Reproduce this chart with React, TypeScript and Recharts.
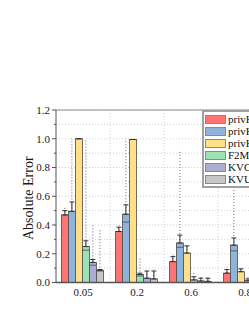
import { BarChart, Bar, XAxis, YAxis, CartesianGrid, ErrorBar, Legend, ReferenceLine, Label } from "recharts"

const categories = ["0.05", "0.2", "0.6", "0.8"]
const yTicks = [0, 0.1, 0.2, 0.3, 0.4, 0.5, 0.6, 0.7, 0.8, 0.9, 1.0, 1.1, 1.2]

// mean absolute error per category
const privKV = [0.47, 0.355, 0.145, 0.065]
const privKVM = [0.495, 0.475, 0.275, 0.26]
const privKVMPlus = [1.0, 0.995, 0.205, 0.075]
const f2m = [0.25, 0.055, 0.018, 0.012]
const kvoh = [0.14, 0.03, 0.01, 0.008]
const kvue = [0.085, 0.025, 0.008, 0.006]

// upper whisker
const privKVHigh = [0.5, 0.385, 0.18, 0.09]
const privKVMHigh = [0.56, 0.54, 0.33, 0.31]
const privKVMPlusHigh = [1.0, 0.995, 0.255, 0.095]
const f2mHigh = [0.29, 0.065, 0.04, 0.025]
const kvohHigh = [0.16, 0.08, 0.03, 0.02]
const kvueHigh = [0.09, 0.08, 0.03, 0.02]

// median line inside the box
const privKVMid = [null, null, null, null]
const privKVMMid = [null, 0.42, 0.245, 0.22]
const privKVMPlusMid = [null, null, null, null]
const f2mMid = [0.225, 0.045, null, null]
const kvohMid = [0.12, null, null, null]
const kvueMid = [0.08, null, null, null]

// largest outlier
const privKVOut = [0.53, 0.4, 0.19, 0.11]
const privKVMOut = [1.0, 1.0, 0.92, 0.99]
const privKVMPlusOut = [1.0, 0.995, 0.26, 0.1]
const f2mOut = [1.0, 0.18, 0.07, 0.04]
const kvohOut = [0.4, 0.09, 0.04, 0.03]
const kvueOut = [0.37, 0.09, 0.04, 0.03]

const series = [
  { key: "privKV", color: "#ff7373", mean: privKV, high: privKVHigh, mid: privKVMid, out: privKVOut },
  { key: "privKVM", color: "#8fb3db", mean: privKVM, high: privKVMHigh, mid: privKVMMid, out: privKVMOut },
  { key: "privKVM+", color: "#ffdf87", mean: privKVMPlus, high: privKVMPlusHigh, mid: privKVMPlusMid, out: privKVMPlusOut },
  { key: "F2M", color: "#9de2b6", mean: f2m, high: f2mHigh, mid: f2mMid, out: f2mOut },
  { key: "KVOH", color: "#adadcf", mean: kvoh, high: kvohHigh, mid: kvohMid, out: kvohOut },
  { key: "KVUE", color: "#c6c6c6", mean: kvue, high: kvueHigh, mid: kvueMid, out: kvueOut },
]

const data = categories.map((cat, i) => {
  const row: Record<string, any> = { cat }
  series.forEach((s) => {
    row[s.key] = s.mean[i]
    row[s.key + "_err"] = [0, s.high[i] - s.mean[i]]
    row[s.key + "_out"] = [0, s.out[i] - s.mean[i]]
  })
  return row
})

const FONT = "'Liberation Serif', 'Times New Roman', serif"
const AXIS = "#555"

const makeShape = (s: (typeof series)[number]) => (props: any) => {
  const { x, y, width, height, index } = props
  const v = s.mean[index]
  const m = s.mid[index]
  const my = m != null ? y + height * (1 - m / v) : null
  return (
    <g>
      <rect x={x} y={y} width={width} height={height} fill={s.color} stroke="#4a4a4a" strokeWidth={0.8} />
      {my != null && <line x1={x} x2={x + width} y1={my} y2={my} stroke="#4a4a4a" strokeWidth={0.8} />}
    </g>
  )
}

const YTick = ({ x, y, payload }: any) => {
  const major = Math.round(payload.value * 10) % 2 === 0
  return (
    <g>
      <line x1={x - (major ? 4 : 2)} x2={x} y1={y} y2={y} stroke={AXIS} />
      {major && (
        <text x={x - 6} y={y} dy="0.35em" textAnchor="end" fontSize={11} fontFamily={FONT} fill="#1a1a1a">
          {payload.value.toFixed(1)}
        </text>
      )}
    </g>
  )
}

// keep the legend in series order
const LegendBox = () => (
  <div style={{ border: "2px solid #a0a0a0", background: "#fff", padding: "1px 0 1px 1px" }}>
    {series.map((s) => (
      <div key={s.key} style={{ display: "flex", alignItems: "center", height: 12 }}>
        <span
          style={{
            width: 21,
            height: 9,
            background: s.color,
            border: "1px solid #8a8a8a",
            boxSizing: "border-box",
            marginRight: 2,
            flex: "none",
          }}
        />
        <span style={{ fontSize: 11, fontFamily: FONT, color: "#111", lineHeight: "12px", whiteSpace: "nowrap" }}>
          {s.key}
        </span>
      </div>
    ))}
  </div>
)

export default function App() {
  return (
    <div style={{ position: "absolute", left: 0, top: 0, width: 249, height: 323, overflow: "hidden", background: "#fff" }}>
      <BarChart
        width={280}
        height={323}
        data={data}
        margin={{ top: 110, right: 8, left: 0, bottom: 10.5 }}
        barCategoryGap="10%"
        barGap={0}
      >
        <CartesianGrid
          stroke="#cfcfcf"
          strokeDasharray="1 2"
          verticalCoordinatesGenerator={({ offset }: any) =>
            [1, 2, 3].map((i) => offset.left + (i * offset.width) / categories.length)
          }
        />
        <XAxis
          dataKey="cat"
          height={30}
          tickLine={false}
          tickSize={0}
          tickMargin={6}
          axisLine={{ stroke: AXIS, strokeWidth: 1.5 }}
          tick={{ fontSize: 11, fontFamily: FONT, fill: "#1a1a1a" }}
        />
        <YAxis
          width={56}
          domain={[0, 1.2]}
          ticks={yTicks}
          interval={0}
          tickLine={false}
          tickSize={0}
          tickMargin={0}
          axisLine={{ stroke: AXIS }}
          tick={<YTick />}
        >
          <Label
            content={({ viewBox }: any) => {
              const cx = viewBox.x + 28
              const cy = viewBox.y + viewBox.height / 2 + 2
              return (
                <text
                  x={cx}
                  y={cy}
                  transform={`rotate(-90 ${cx} ${cy})`}
                  textAnchor="middle"
                  dominantBaseline="central"
                  fontSize={14}
                  fontFamily={FONT}
                  fill="#1a1a1a"
                >
                  Absolute Error
                </text>
              )
            }}
          />
        </YAxis>
        <ReferenceLine y={1.2} stroke="#8a8a8a" />
        {series.map((s) => (
          <Bar key={s.key} dataKey={s.key} name={s.key} fill={s.color} isAnimationActive={false} shape={makeShape(s)}>
            <ErrorBar dataKey={s.key + "_out"} width={0} stroke="#666" strokeWidth={1} strokeDasharray="1 2" />
            <ErrorBar dataKey={s.key + "_err"} width={2.5} stroke="#333" strokeWidth={1} />
          </Bar>
        ))}
        <Legend
          layout="vertical"
          align="center"
          verticalAlign="middle"
          wrapperStyle={{ left: 202, top: 110, width: 80, height: "auto" }}
          content={<LegendBox />}
        />
      </BarChart>
    </div>
  )
}
